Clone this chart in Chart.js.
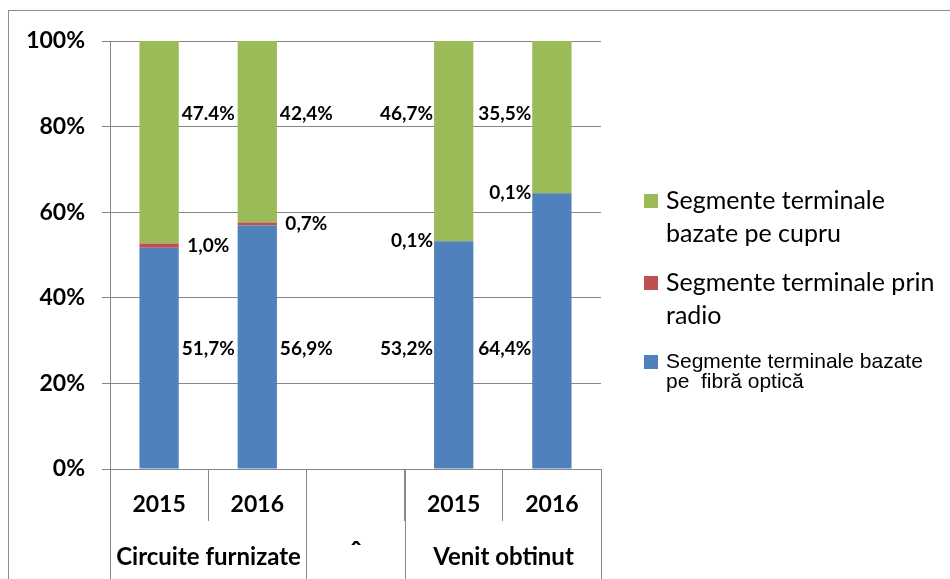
<!DOCTYPE html>
<html>
<head>
<meta charset="utf-8">
<script src="https://cdn.jsdelivr.net/npm/chart.js@4"></script>
<style>
  html, body { margin: 0; padding: 0; background: #fff; }
  canvas { display: block; }
</style>
</head>
<body>
<canvas id="chart" width="950" height="579"></canvas>
<script>
// categories: two years per group, an empty slot between the groups
const years = ['2015', '2016', '', '2015', '2016'];
const groups = ['Circuite furnizate', 'ˆ', 'Venit obtinut'];
const groupSpans = [[0, 1], [2, 2], [3, 4]];

// shares in %
const fibra = [51.7, 56.9, null, 53.2, 64.4];
const radio = [1.0, 0.7, null, 0.1, 0.1];
const cupru = [47.4, 42.4, null, 46.7, 35.5];

// label texts as printed on the chart
const fibraText = ['51,7%', '56,9%', '', '53,2%', '64,4%'];
const radioText = ['1,0%', '0,7%', '', '0,1%', '0,1%'];
const cupruText = ['47.4%', '42,4%', '', '46,7%', '35,5%'];

const yTicks = [0, 20, 40, 60, 80, 100];
const seriesNames = [
  'Segmente terminale bazate\npe  fibră optică',
  'Segmente terminale prin\nradio',
  'Segmente terminale\nbazate pe cupru'
];

const GRID = '#878787';
const FONT = 'Lato, "Open Sans", sans-serif';

// white background + outer frame (clipped on right/bottom like the source)
const frame = {
  id: 'frame',
  beforeDraw(chart) {
    const ctx = chart.ctx;
    ctx.save();
    ctx.fillStyle = '#fff';
    ctx.fillRect(0, 0, chart.width, chart.height);
    ctx.strokeStyle = '#8c8c8c';
    ctx.lineWidth = 1;
    ctx.strokeRect(8.5, 10.5, chart.width + 20, chart.height + 20);
    ctx.restore();
  }
};

// long group dividers and group names under the year row
const groupAxis = {
  id: 'groupAxis',
  afterDraw(chart) {
    const ctx = chart.ctx;
    const x = chart.scales.x;
    const step = x.getPixelForValue(1) - x.getPixelForValue(0);
    const top = chart.chartArea.bottom;
    ctx.save();
    ctx.strokeStyle = GRID;
    ctx.lineWidth = 1;
    ctx.fillStyle = '#000';
    ctx.textAlign = 'center';
    ctx.textBaseline = 'middle';
    groupSpans.forEach((span, g) => {
      const x0 = Math.round(x.getPixelForValue(span[0]) - step / 2) + 0.5;
      const x1 = Math.round(x.getPixelForValue(span[1]) + step / 2) + 0.5;
      ctx.beginPath();
      ctx.moveTo(x0, top);
      ctx.lineTo(x0, chart.height);
      ctx.moveTo(x1, top);
      ctx.lineTo(x1, chart.height);
      ctx.stroke();
      ctx.font = 'bold ' + (g === 1 ? 28 : 24) + 'px ' + FONT;
      ctx.fillText(groups[g], (x0 + x1) / 2, g === 1 ? 553 : 557);
    });
    ctx.restore();
  }
};

// value labels beside the bars
const valueLabels = {
  id: 'valueLabels',
  afterDatasetsDraw(chart) {
    const ctx = chart.ctx;
    const x = chart.scales.x;
    const y = chart.scales.y;
    const step = x.getPixelForValue(1) - x.getPixelForValue(0);
    ctx.save();
    ctx.font = 'bold 19px ' + FONT;
    ctx.fillStyle = '#000';
    ctx.textBaseline = 'middle';
    chart.data.datasets.forEach((ds, i) => {
      chart.getDatasetMeta(i).data.forEach((bar, j) => {
        if (ds.data[j] == null) return;
        let v = 28;
        if (i === 1) v = fibra[j] + radio[j] / 2;
        if (i === 2) v = 83;
        const py = y.getPixelForValue(v);
        if (j <= groupSpans[0][1]) {
          ctx.textAlign = 'center';
          ctx.fillText(ds.texts[j], bar.x + step / 2, py);
        } else {
          ctx.textAlign = 'right';
          ctx.fillText(ds.texts[j], bar.x - bar.width / 2 - 1, py);
        }
      });
    });
    ctx.restore();
  }
};

// legend on the right, top series first
const sideLegend = {
  id: 'sideLegend',
  afterDraw(chart) {
    const ctx = chart.ctx;
    const left = chart.chartArea.right + 43;
    const items = [
      { ds: 2, top: 194, font: '25px ' + FONT, lh: 33 },
      { ds: 1, top: 276, font: '25px ' + FONT, lh: 33 },
      { ds: 0, top: 355, font: '21px "Liberation Sans", Arial, sans-serif', lh: 20 }
    ];
    ctx.save();
    items.forEach(it => {
      const ds = chart.data.datasets[it.ds];
      ctx.fillStyle = ds.backgroundColor;
      ctx.fillRect(left, it.top, 14, 14);
      ctx.fillStyle = '#000';
      ctx.font = it.font;
      ctx.textAlign = 'left';
      ctx.textBaseline = 'middle';
      ds.label.split('\n').forEach((line, k) => {
        ctx.fillText(line, left + 22, it.top + 7 + k * it.lh);
      });
    });
    ctx.restore();
  }
};

new Chart(document.getElementById('chart'), {
  type: 'bar',
  data: {
    labels: years,
    datasets: [
      { label: seriesNames[0], data: fibra, texts: fibraText, backgroundColor: '#4F81BD' },
      { label: seriesNames[1], data: radio, texts: radioText, backgroundColor: '#C0504D' },
      { label: seriesNames[2], data: cupru, texts: cupruText, backgroundColor: '#9BBB59' }
    ]
  },
  options: {
    responsive: false,
    animation: false,
    barPercentage: 0.4,
    categoryPercentage: 1.0,
    layout: { padding: { top: 41, right: 349, bottom: 0, left: 0 } },
    plugins: { legend: { display: false }, tooltip: { enabled: false } },
    scales: {
      x: {
        stacked: true,
        afterFit: s => { s.height = 110; },
        border: { display: true, color: GRID },
        grid: { drawOnChartArea: false, color: GRID, tickLength: 52, offset: true },
        ticks: { color: '#000', font: { family: FONT, size: 23, weight: 'bold' }, padding: -30, autoSkip: false, maxRotation: 0 }
      },
      y: {
        stacked: true,
        min: 0,
        max: 100,
        afterFit: s => { s.width = 110; },
        afterBuildTicks: s => { s.ticks = yTicks.map(v => ({ value: v })); },
        border: { display: true, color: GRID },
        grid: { color: GRID, tickLength: 8 },
        ticks: { color: '#000', font: { family: FONT, size: 23, weight: 'bold' }, padding: 17, callback: v => v + '%' }
      }
    }
  },
  plugins: [frame, groupAxis, valueLabels, sideLegend]
});
</script>
</body>
</html>
